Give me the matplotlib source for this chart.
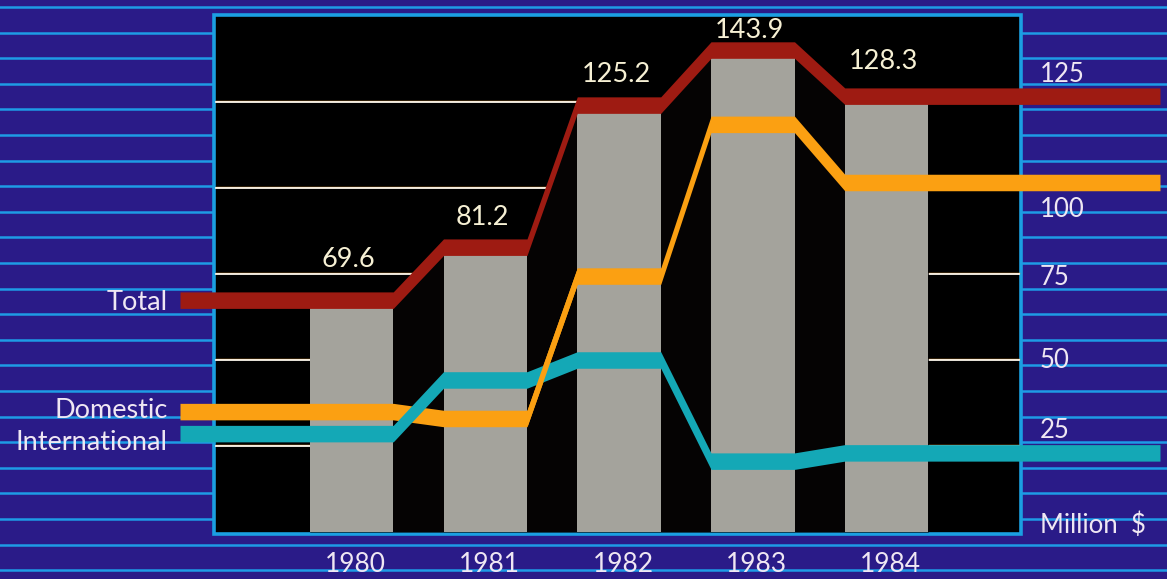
"""
Million $ by year: grey bars with stepped Total / Domestic / International
bands on a striped indigo background, drawn at 1167x579 px.
"""

import numpy as np
import matplotlib
matplotlib.use("Agg")
import matplotlib.pyplot as plt
from matplotlib.patches import Rectangle

# -----------------------------
# Data (million $)
# -----------------------------
years = ["1980", "1981", "1982", "1983", "1984"]
total_labels = ["69.6", "81.2", "125.2", "143.9", "128.3"]
total = [67.4, 82.8, 124.1, 140.1, 126.7]          # centre of red band
domestic = [35.0, 33.0, 74.4, 118.5, 101.6]
international = [28.6, 44.2, 50.0, 20.6, 23.0]
scale_ticks = [25, 50, 75, 100, 125]
series_names = ["Total", "Domestic", "International"]

# -----------------------------
# Layout: one axes over the whole figure, data units mapped to pixels
# -----------------------------
W, H = 1167, 579
X0, XS = 351.5, 133.75    # px of the 1980 bar centre, px per year
Y0, YS = 532.0, 3.44      # px of zero, px per million $


def dx(px):
    return (px - X0) / XS


def dy(py):
    return (Y0 - py) / YS


BAR_W = 83.5 / XS
BAND = 16.5 / YS
LINE_START, LINE_END = dx(180), dx(1160)

BG = "#2a1b88"
STRIPE = "#1e9be6"
BORDER = "#1b9fe2"
GREY = "#a4a39c"
RED = "#9e1b12"
ORANGE = "#fba012"
TEAL = "#14a8b6"
TEXT = "#efe7f3"
CREAM = "#f6f0d4"
FONT = "Lato"

fig = plt.figure(figsize=(W / 100, H / 100), dpi=100)
fig.patch.set_facecolor(BG)
ax = fig.add_axes([0, 0, 1, 1])
ax.set_facecolor(BG)
ax.set_xlim(dx(0), dx(W))
ax.set_ylim(dy(H), dy(0))
ax.axis("off")

# background stripes
for py in np.arange(7, H, 25.6):
    ax.axhline(dy(py), color=STRIPE, lw=1.8, zorder=0)

# black panel with cyan frame
ax.add_patch(Rectangle((dx(214), dy(534)), dx(1021) - dx(214), dy(15) - dy(534),
                       facecolor="black", edgecolor=BORDER, lw=2.6, zorder=1))

# grid lines inside the panel (white with an orange edge)
for t in scale_ticks:
    ax.plot([dx(216), dx(1019)], [t + 1.0 / YS] * 2, color="#f0a030", lw=1.0, zorder=1.5)
    ax.plot([dx(216), dx(1019)], [t, t], color="#f8f4ec", lw=1.3, zorder=1.6)


def band_path(vals):
    xs, ys = [LINE_START], [vals[0]]
    for i, v in enumerate(vals):
        xs += [i - BAR_W / 2, i + BAR_W / 2]
        ys += [v, v]
    xs.append(LINE_END)
    ys.append(vals[-1])
    return np.array(xs), np.array(ys)


tx, ty = band_path(total)
dxs, dys = band_path(domestic)
ixs, iys = band_path(international)

# shadow under the total line between the bars
ax.fill_between(tx[1:-1], 0, ty[1:-1], color="#050303", lw=0, zorder=2)

# bars
x = np.arange(len(years))
ax.bar(x, total, width=BAR_W, color=GREY, zorder=3)

# bands
ax.fill_between(dxs, dys - BAND / 2, dys + BAND / 2, color=ORANGE, lw=0, zorder=4)
ax.fill_between(ixs, iys - BAND / 2, iys + BAND / 2, color=TEAL, lw=0, zorder=5)
ax.fill_between(dxs[4:6], dys[4:6] - BAND / 2, dys[4:6] + BAND / 2,
                color=ORANGE, lw=0, zorder=6)
ax.fill_between(tx, ty - BAND / 2, ty + BAND / 2, color=RED, lw=0, zorder=7)

# value labels above the bars (lift in px above band centre)
label_lift = [33, 22, 23, 12, 27]
for i, lab in enumerate(total_labels):
    ax.text(i - 3 / XS, total[i] + label_lift[i] / YS, lab, ha="center", va="baseline",
            color=CREAM, fontsize=19.5, family=FONT, zorder=8)

# year labels
for i, yr in enumerate(years):
    ax.text(i + 4 / XS, dy(572), yr, ha="center", va="baseline",
            color=TEXT, fontsize=19, family=FONT, zorder=8)

# right-hand scale (labels sit off their grid lines, shift in px)
tick_shift = [-8, 8, 11, 29, -20]
for t, s in zip(scale_ticks, tick_shift):
    ax.text(dx(1040), t - s / YS, str(t), ha="left", va="baseline",
            color=TEXT, fontsize=18.5, family=FONT, zorder=8)
ax.text(dx(1040), dy(533), "Million  $", ha="left", va="baseline",
        color=TEXT, fontsize=18.5, family=FONT, zorder=8)

# series names at the left end of the bands
name_drop = [10, 6.5, 16.5]
for name, vals, d in zip(series_names, [total, domestic, international], name_drop):
    ax.text(dx(168), vals[0] - d / YS, name, ha="right", va="baseline",
            color=TEXT, fontsize=19.5, family=FONT, zorder=8)

fig.savefig("out.png", dpi=100, facecolor=BG)
